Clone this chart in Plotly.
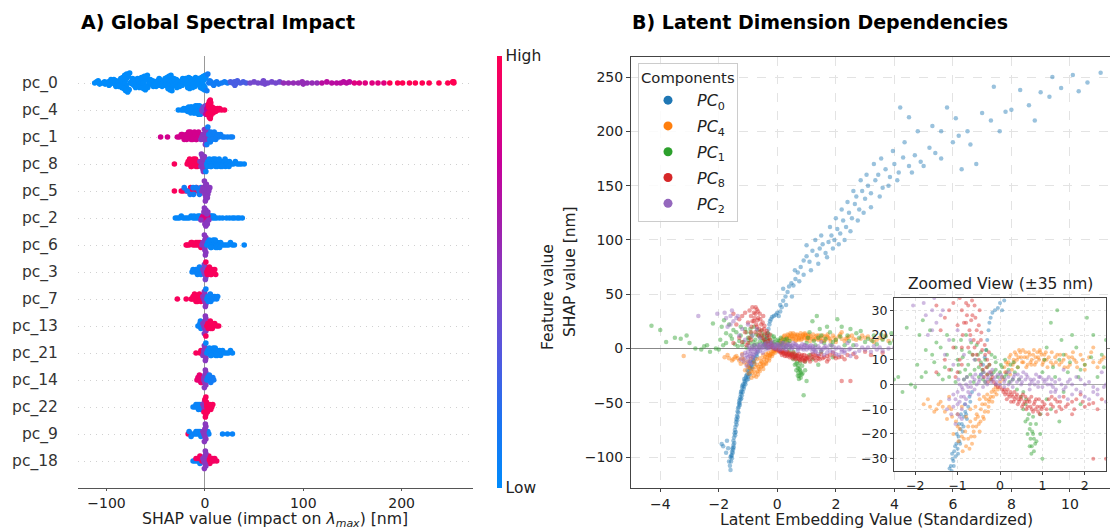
import numpy as np
import plotly.graph_objects as go

W, H = 1110, 529

# ---------------- Panel A: SHAP beeswarm data ----------------
feature_names = ["pc_0", "pc_4", "pc_1", "pc_8", "pc_5", "pc_2", "pc_6", "pc_3",
                 "pc_7", "pc_13", "pc_21", "pc_14", "pc_22", "pc_9", "pc_18"]

# (feature value level 0=low .. 1=high, [SHAP values in nm])
pc_0_pts = [
    (0.0, [-112, -110, -107, -104, -102, -100, -98, -96, -95, -93, -92, -91, -90, -89, -88, -87, -86, -85,
           -84, -83, -82, -82, -81, -81, -81, -81, -80, -80, -80, -79, -79, -78, -77, -76, -75, -74, -73,
           -72, -71, -70, -69, -68, -67, -66, -65, -64, -64, -63, -63, -63, -62, -62, -61, -60, -59, -58,
           -57, -56, -55, -53, -52, -51, -50, -49, -48, -47, -46, -45, -44, -43, -42, -41, -40, -39, -38,
           -37, -36, -36, -35, -35, -35, -34, -33, -33, -32, -31, -30, -29, -28, -27, -26, -25, -24, -23,
           -22, -21, -20, -19, -18, -17, -16, -16, -15, -15, -14, -13, -12, -11, -10, -9, -8, -7, -6, -5,
           -4, -4, -3, -3, -2, -2, -2, -1, -1, 0, 0, 1,
           -108.5, -101.5, -97.5, -95.5, -92.5, -90.5, -87.5, -85.5, -84.5, -83.5, -82.5, -81.5, -80.5,
           -79.5, -78.5, -76.5, -73.5, -70.5, -68.5, -66.5, -64.5, -63.5, -62.5, -61.5, -60.5, -58.5,
           -55.5, -52.5, -49.5, -46.5, -43.5, -40.5, -38.5, -37.5, -36.5, -35.5, -34.5, -33.5, -31.5,
           -28.5, -25.5, -22.5, -19.5, -17.5, -16.5, -15.5, -14.5, -12.5, -9.5, -6.5, -4.5, -3.5, -2.5,
           -1.5, -0.5, 0.5]),
    (0.1, [2, 4, 6, 8, 10, 12, 14, 17, 20, 23, 3, 5, 9]),
    (0.28, [26, 28, 30, 31, 33, 36, 39, 42, 30.5]),
    (0.42, [46, 50, 54, 58, 60, 61, 64, 68, 72, 76, 59.5]),
    (0.55, [80, 85, 90, 95, 99, 100, 104, 109, 114]),
    (0.7, [119, 124, 129, 134, 138, 141, 144, 147]),
    (0.85, [152, 157, 163, 170, 176, 182]),
    (1.0, [188, 196, 201, 208, 214, 221, 228, 238, 247, 252, 253, 253]),
]
pc_4_pts = [
    (0.02, [-27, -24, -22, -20, -19, -18, -17, -16, -15, -15, -14, -13, -12, -12, -11, -10, -9, -9, -8, -8,
            -7, -7, -6, -6, -5, -5, -4, -21.5, -17.5, -16.5, -14.5, -13.5, -11.5, -10.5, -9.5, -8.5, -7.5,
            -6.5, -5.5, -4.5]),
    (0.4, [-3, -2, -1, 0, 0, 1, -2.5, -1.5, -0.5, 0.5]),
    (0.72, [1, 2, 2, 3, 3, 4, 4, 2.5, 3.5, 4.5]),
    (0.97, [3, 4, 4, 5, 5, 5, 6, 6, 7, 8, 9, 10, 12, 14, 17, 20, 3.5, 4.5, 4.5, 5.5, 5.5, 6.5, 7.5, 8.5,
            11, 13, 15]),
]
pc_1_pts = [
    (0.8, [-45, -38, -28, -26, -24, -22, -20, -19, -18, -17, -16, -15, -14, -13, -12, -11, -10, -9, -8,
           -7, -6, -5, -23, -21, -18.5, -16.5, -14.5, -12.5, -10.5, -8.5, -6.5]),
    (0.5, [-4, -3, -2, -1, 0, 0, 1, 1, 2, 2, 3, 3, 4, -1.5, -0.5, 0.5, 1.5, 2.5]),
    (0.08, [2, 3, 4, 5, 6, 7, 8, 9, 10, 11, 12, 14, 16, 18, 20, 23, 26, 28, 5.5, 7.5, 9.5, 13]),
]
pc_8_pts = [
    (0.97, [-31, -18, -17, -16, -15, -14, -13, -12, -11, -10, -9, -8, -7, -6, -15.5, -13.5, -11.5, -9.5,
            -7.5]),
    (0.5, [-5, -4, -3, -3, -2, -2, -2, -1, -1, -1, 0, 0, -2.5, -1.5, -0.5, -3.5]),
    (0.03, [1, 2, 3, 4, 5, 6, 7, 8, 9, 10, 11, 12, 13, 14, 15, 16, 17, 18, 19, 20, 21, 22, 23, 24, 25,
            27, 29, 31, 33, 35, 37, 40, 2.5, 4.5, 6.5, 8.5, 10.5, 12.5, 14.5, 17.5, 20.5, 24.5]),
]
pc_5_pts = [
    (0.97, [-31, -24, -22, -19, -16, -13, -10, -7, -14.5, -8.5]),
    (0.1, [-21, -18, -15, -12, -9, -6, -4, -11.5, -5.5]),
    (0.5, [-3, -2, -1, 0, 0, 1, 1, 2, 2, 3, 4, 5, -0.5, 0.5, 1.5, 2.5]),
]
pc_2_pts = [
    (0.03, [-30, -28, -26, -24, -22, -20, -18, -16, -14, -12, -10, -8, -6, -5, 5, 6, 8, 10, 12, 15, 18,
            22, 25, 28, 30, 33, 35, 38, -11, -7, 7, 9]),
    (0.85, [-3, -2, -1, 0, 0, 1, 2, 3, 0.5, 1.5]),
    (0.5, [-4, -1, 0, 1, 1, 2, 2, 3, 4, -0.5, 2.5]),
]
pc_6_pts = [
    (0.97, [-19, -18, -16, -14, -12, -10, -8, -6, -5, -4, -13, -9, -7]),
    (0.5, [-3, -2, -1, -1, 0, 0, 0, 1, 1, -0.5, 0.5]),
    (0.03, [2, 3, 4, 5, 6, 7, 8, 9, 10, 11, 12, 13, 14, 16, 18, 20, 22, 24, 26, 28, 30, 40, 4.5, 6.5,
            8.5, 10.5, 12.5, 15]),
]
pc_3_pts = [
    (0.05, [-13, -12, -10, -9, -8, -7, -6, -5, -4, -3, -7.5, -5.5]),
    (0.45, [-2, -1, -1, 0, 0, 1, -0.5, 0.5]),
    (0.97, [1, 2, 3, 4, 5, 6, 7, 8, 9, 10, 11, 2.5, 4.5, 6.5]),
]
pc_7_pts = [
    (0.97, [-28, -19, -14, -13, -12, -11, -10, -9, -8, -7, -6, -5, -4, -3, -10.5, -7.5, -5.5]),
    (0.5, [-2, -1, -1, 0, 0, 1, -0.5, 0.5]),
    (0.05, [1, 2, 3, 4, 5, 6, 7, 8, 9, 10, 12, 13, 3.5, 5.5]),
]
pc_13_pts = [
    (0.05, [-7, -6, -5, -4, -3, -4.5]),
    (0.5, [-2, -1, -1, 0, 0, 1, 1, -0.5, 0.5]),
    (0.97, [1, 2, 3, 4, 5, 6, 7, 8, 9, 10, 12, 14, 3.5, 5.5, 7.5]),
]
pc_21_pts = [
    (0.97, [-9, -5, -4, -3, -2.5]),
    (0.5, [-2, -1, -1, 0, 0, 1, -0.5, 0.5]),
    (0.03, [1, 2, 3, 4, 5, 6, 7, 8, 9, 10, 11, 12, 13, 14, 15, 16, 17, 18, 20, 22, 24, 26, 28, 4.5, 6.5,
            8.5, 10.5, 12.5]),
]
pc_14_pts = [
    (0.9, [-8, -7, -6, -5, -4, -3, -2, -5.5, -3.5]),
    (0.5, [-1, -1, 0, 0, 1, 1, -0.5, 0.5]),
    (0.1, [2, 3, 4, 5, 6, 7, 8, 9, 4.5]),
]
pc_22_pts = [
    (0.05, [-12, -10, -9, -8, -7, -6, -5, -4, -3, -6.5]),
    (0.5, [-2, -1, 0, 0, -0.5]),
    (0.97, [-1, 0, 1, 1, 2, 2, 3, 4, 5, 6, 7, 8, 0.5, 1.5, 2.5]),
]
pc_9_pts = [
    (0.97, [-17, -15]),
    (0.05, [-16, -14, -12, -10, -8, -6, -5, -4, -3, 2, 3, 4, 18, 23, 28, -7, -9]),
    (0.5, [-2, -1, -1, 0, 0, 1, 1, -0.5, 0.5]),
]
pc_18_pts = [
    (0.05, [-12, -10, -8, -6, -4, 4, 6, -5]),
    (0.95, [-9, -7, -5, -3, 2, 3, 5, 7, 8, 9, 10, 12, 4]),
    (0.5, [-2, -1, -1, 0, 0, 1, 1, -0.5, 0.5]),
]
row_points = [pc_0_pts, pc_4_pts, pc_1_pts, pc_8_pts, pc_5_pts, pc_2_pts, pc_6_pts, pc_3_pts,
              pc_7_pts, pc_13_pts, pc_21_pts, pc_14_pts, pc_22_pts, pc_9_pts, pc_18_pts]

shap_ticks = [-100, 0, 100, 200]

# ---------------- Panel B: dependence data (x = standardized latent, y = SHAP nm) ----------------
pc0_xy = [(-1.62, -108), (-1.58, -104), (-1.57, -99), (-1.55, -101), (-1.55, -95), (-1.53, -92), (-1.52, -96),
          (-1.5, -89), (-1.5, -85), (-1.48, -82), (-1.47, -87), (-1.46, -78), (-1.45, -75), (-1.43, -72),
          (-1.42, -77), (-1.41, -68), (-1.4, -65), (-1.38, -62), (-1.37, -66), (-1.36, -58), (-1.34, -55),
          (-1.33, -59), (-1.31, -51), (-1.3, -48), (-1.28, -52), (-1.27, -45), (-1.25, -42), (-1.23, -46),
          (-1.22, -39), (-1.2, -36), (-1.18, -40), (-1.16, -33), (-1.14, -35), (-1.12, -30), (-1.1, -31),
          (-1.08, -27), (-1.05, -29), (-1.03, -24), (-1.0, -26), (-0.98, -21), (-0.96, -23), (-0.93, -18),
          (-0.9, -16), (-0.88, -19), (-0.85, -13), (-0.82, -11), (-0.78, -14), (-0.75, -9), (-0.7, -7),
          (-1.56, -98), (-1.51, -93), (-1.49, -91), (-1.44, -80), (-1.39, -70), (-1.35, -63), (-1.32, -54),
          (-1.29, -50), (-1.26, -47), (-1.24, -40), (-1.21, -43), (-1.19, -34), (-1.15, -37), (-1.13, -28),
          (-1.09, -33), (-1.06, -25), (-1.02, -20), (-0.99, -28), (-0.97, -16), (-0.94, -24), (-0.92, -12),
          (-0.86, -17), (-0.83, -8), (-0.8, -12), (-0.72, -5), (-0.66, -3), (-1.65, -104), (-1.6, -100),
          (-1.85, -90), (-1.72, -85), (-1.68, -92), (-1.75, -96), (-1.6, -112), (-1.9, -88),
          (-0.45, 4), (-0.4, 8), (-0.36, 11), (-0.33, 14), (-0.3, 18), (-0.27, 22), (-0.25, 25), (-0.22, 27),
          (-0.18, 29), (-0.12, 30), (-0.05, 31), (0.0, 33), (0.05, 30), (0.1, 34), (0.15, 38), (0.2, 44),
          (0.28, 48), (0.35, 52), (0.4, 57), (0.48, 60), (0.55, 58), (0.62, 64), (0.7, 70), (0.8, 75),
          (0.9, 81), (1.0, 85), (1.1, 80), (1.2, 90), (1.35, 86), (1.45, 92), (1.55, 96), (1.65, 88),
          (1.75, 98), (1.85, 104), (1.95, 100), (2.05, 110), (2.15, 106), (2.25, 118), (2.35, 112),
          (2.45, 125), (2.55, 120), (2.65, 133), (2.7, 140), (2.8, 128), (2.9, 145), (3.0, 138), (3.1, 150),
          (3.2, 143), (3.35, 155), (3.45, 160), (3.6, 148), (3.7, 165), (3.85, 158), (4.0, 170), (4.15, 162),
          (4.2, 222), (4.5, 213), (4.3, 176), (4.5, 168), (4.7, 178), (4.9, 172), (5.2, 185), (5.4, 180),
          (5.6, 200), (5.8, 222), (6.0, 190), (6.2, 196), (6.3, 165), (6.5, 200), (6.8, 170), (7.0, 217),
          (7.3, 210), (7.4, 241), (7.8, 218), (8.0, 220), (8.6, 224), (9.0, 236), (9.3, 232), (9.4, 250),
          (10.1, 252), (10.3, 237), (11.05, 254),
          (0.1, 40), (0.3, 40), (0.2, 55), (0.5, 48), (0.6, 72), (0.75, 62), (0.9, 68), (1.0, 95), (1.15, 72),
          (1.3, 100), (1.4, 78), (1.5, 104), (1.7, 84), (1.8, 112), (1.9, 92), (2.0, 120), (2.1, 96),
          (2.2, 128), (2.3, 100), (2.4, 135), (2.5, 108), (2.6, 145), (2.75, 118), (2.85, 155), (2.95, 125),
          (3.05, 160), (3.2, 130), (3.3, 170), (3.5, 140), (3.55, 175), (3.8, 150), (3.95, 182), (4.1, 155),
          (4.35, 190), (4.6, 162), (4.8, 200), (5.0, 168), (5.3, 205), (5.6, 175), (6.1, 212), (6.6, 188),
          (7.6, 200), (8.3, 238), (8.8, 210), (9.7, 240), (10.6, 245)]

pc4_xy = [(-3.2, -7), (-1.8, -8), (-1.65, -9), (-1.5, -10), (-1.4, -7), (-1.3, -11), (-1.2, -5), (-1.13, -13),
          (-1.04, -15), (-1.0, -12), (-0.95, -18), (-0.9, -21), (-0.85, -22), (-0.8, -25), (-0.75, -17),
          (-0.7, -10), (-0.66, -24), (-0.64, -17), (-0.6, -21), (-0.58, -14), (-0.55, -12), (-0.5, -16),
          (-0.48, -6), (-0.45, -10), (-0.4, -13), (-0.38, -5), (-0.35, -8), (-0.3, -4), (-0.28, -11),
          (-0.25, -6), (-0.2, -3), (-0.15, -2), (-0.1, -1), (0.0, 1), (0.1, 7), (0.15, 5), (0.2, 9),
          (0.25, 12), (0.3, 8), (0.35, 13), (0.4, 10), (0.45, 14), (0.5, 11), (0.55, 9), (0.6, 13),
          (0.65, 8), (0.7, 12), (0.75, 10), (0.8, 14), (0.85, 9), (0.9, 11), (0.95, 13), (1.0, 8),
          (1.05, 12), (1.1, 10), (1.2, 9), (1.3, 11), (1.4, 8), (1.5, 10), (1.6, 7), (1.7, 11), (1.8, 9),
          (2.0, 8), (2.1, 11), (2.2, 15), (2.3, 7), (2.4, 10), (2.6, 9), (2.9, 12), (3.2, 8), (3.5, 10),
          (3.8, 7),
          (-0.9, -9), (-0.8, -13), (-0.75, -22), (-0.7, -15), (-0.62, -19), (-0.58, -9), (-0.52, -13),
          (-0.48, -19), (-0.42, -8), (-0.38, -14), (-0.33, -6), (-0.27, -9), (-0.22, -5), (-0.18, -7),
          (-0.12, -3), (-0.05, -2), (0.05, 3), (0.12, 5), (0.18, 8), (0.22, 11), (0.28, 6), (0.32, 10),
          (0.38, 12), (0.42, 7), (0.48, 13), (0.52, 9), (0.58, 11), (0.62, 7), (0.68, 13), (0.72, 9),
          (0.78, 12), (0.82, 8), (0.88, 13), (0.92, 10), (0.98, 12), (1.02, 9), (1.08, 13), (1.15, 11),
          (1.25, 8), (1.35, 12), (1.45, 9), (1.55, 12), (1.65, 8), (1.75, 10), (1.9, 12), (2.0, 6),
          (2.2, 9), (2.45, 11), (2.7, 8), (3.0, 10), (3.3, 6), (3.6, 9), (4.0, 8), (-1.2, -9), (-1.45, -8),
          (-1.1, -20), (-1.0, -17),
          (-1.7, -6), (-1.55, -11), (-1.35, -9), (-1.25, -14), (-1.15, -10), (-0.98, -23), (-0.88, -27),
          (-0.82, -19), (-0.72, -26), (-0.68, -21), (-0.56, -17), (-0.46, -15), (-0.36, -11), (-0.26, -7),
          (-0.16, -5), (-0.08, -4), (0.08, 2), (0.14, 9), (0.24, 4), (0.34, 9), (0.44, 11), (0.54, 14),
          (0.64, 11), (0.74, 8), (0.84, 11), (0.94, 14), (1.04, 10), (1.12, 7), (1.22, 13), (1.32, 9),
          (1.42, 12), (1.52, 7), (1.62, 11), (1.72, 13), (1.82, 7), (1.95, 10), (2.15, 13), (2.35, 9),
          (2.55, 12), (2.85, 9), (3.1, 11), (3.4, 8), (3.7, 12)]

pc1_xy = [(-4.3, 21), (-4.0, 17), (-3.8, 6), (-3.5, 10), (-3.3, 9), (-3.0, 5), (-2.6, -1), (-2.4, 3),
          (-2.3, -3), (-2.2, 23), (-2.1, 0), (-2.0, -1), (-1.9, 20), (-1.82, 26), (-1.75, 5), (-1.65, 22),
          (-1.6, 12), (-1.5, 17), (-1.45, 4), (-1.4, 15), (-1.3, 7), (-1.2, 3), (-1.1, 18), (-1.0, 10),
          (-0.95, 5), (-0.9, 14), (-0.85, 2), (-0.8, 20), (-0.75, 8), (-0.7, 4), (-0.65, 12), (-0.6, 6),
          (-0.55, 16), (-0.5, 3), (-0.45, 9), (-0.4, 5), (-0.35, 1), (-0.3, 7), (-0.2, 4), (-0.1, 6),
          (0.0, 5), (0.1, 3), (0.2, 6), (0.3, 2), (0.4, -2), (0.5, -5), (0.55, -10), (0.6, -8), (0.65, -14),
          (0.7, -18), (0.72, -22), (0.75, -25), (0.78, -20), (0.8, -27), (0.85, -16), (0.9, -43), (0.95, -12),
          (1.0, -30), (1.1, -6), (1.2, 25), (1.35, 30), (1.4, 10), (1.6, 5), (1.8, 15), (2.0, 8), (2.05, 27),
          (2.2, 20), (2.4, 12), (2.6, 3), (2.8, 10), (3.0, 6), (3.3, 12), (3.6, 8), (3.9, 14), (4.2, 10),
          (1.5, -3), (1.9, -8),
          (-0.5, 7), (-0.45, 13), (-0.4, 2), (-0.35, 10), (-0.3, 4), (-0.25, 8), (-0.2, 12), (-0.15, 5),
          (-0.1, 9), (-0.05, 3), (0.05, 7), (0.15, 4), (0.25, 8), (0.35, 5), (0.45, 2), (0.55, -3),
          (0.62, -6), (0.68, -12), (0.72, -16), (0.76, -19), (0.8, -22), (0.83, -24), (0.7, -25),
          (0.65, -20), (-1.25, 12), (-1.15, 6), (-1.05, 15), (-0.98, 8), (-0.88, 11), (-0.78, 3),
          (-0.68, 17), (-0.58, 10), (-1.55, 9), (-1.75, 14), (-2.5, 2), (-2.8, 0), (-3.1, 12), (1.0, 5),
          (1.1, 15), (1.3, 3), (1.5, 12), (1.7, 20), (1.9, 6), (2.3, 3), (2.5, 18), (2.7, 14), (3.1, 9),
          (3.4, 4), (3.7, 11), (4.0, 7), (1.2, -10), (1.4, -15), (0.95, -20),
          (-1.95, 8), (-1.85, 3), (-1.35, 2), (-1.25, 20), (-1.05, 1), (-0.92, 18), (-0.82, 6), (-0.72, 13),
          (-0.62, 1), (-0.52, 12), (-0.42, 6), (-0.32, 14), (-0.22, 2), (-0.12, 11), (0.02, 8), (0.12, 10),
          (0.22, 1), (0.32, 9), (0.42, 7), (1.05, 10), (1.25, 7), (1.45, 18), (1.65, 9), (1.85, 3),
          (2.15, 11), (2.45, 7), (2.85, 16), (3.25, 7), (3.55, 13), (3.85, 5), (0.6, -15), (0.74, -28),
          (0.86, -23), (0.78, -13)]

pc8_xy = [(-1.5, 32), (-1.3, 27), (-1.1, 33), (-1.0, 24), (-0.95, 35), (-0.9, 30), (-0.85, 38), (-0.8, 25),
          (-0.75, 32), (-0.7, 20), (-0.65, 28), (-0.6, 15), (-0.55, 22), (-0.5, 10), (-0.45, 18), (-0.4, 6),
          (-0.35, 12), (-0.3, 4), (-0.25, 8), (-0.2, 2), (-1.2, 30), (-1.4, 22), (-1.1, 15), (-1.3, 10),
          (-1.0, 5), (-0.9, 8), (-0.15, 1), (-0.1, 0), (-0.05, -1), (0.0, -1), (0.1, -2), (0.15, -3),
          (0.2, -4), (0.25, -3), (0.3, -5), (0.35, -6), (0.4, -4), (0.45, -7), (0.5, -6), (0.55, -8),
          (0.6, -5), (0.65, -9), (0.7, -7), (0.75, -10), (0.8, -8), (0.85, -6), (0.9, -11), (0.95, -9),
          (1.0, -7), (1.1, -10), (1.2, -8), (1.3, -6), (1.4, -9), (1.5, -5), (1.7, -7), (1.9, -4), (2.1, -8),
          (2.2, -7.5), (2.2, -30), (2.5, -30), (2.6, -5), (3.0, -3),
          (0.05, -2), (0.12, -4), (0.18, -2), (0.22, -5), (0.28, -4), (0.32, -7), (0.38, -5), (0.42, -8),
          (0.48, -5), (0.52, -9), (0.58, -7), (0.62, -10), (0.68, -6), (0.72, -9), (0.78, -11), (0.82, -7),
          (0.88, -9), (0.92, -6), (0.98, -10), (1.05, -8), (1.15, -6), (1.25, -9), (1.35, -7), (1.45, -10),
          (1.6, -8), (1.8, -6), (2.0, -9), (-0.85, 25), (-0.8, 33), (-0.75, 15), (-0.7, 36), (-0.68, 26),
          (-0.62, 18), (-0.6, 32), (-0.55, 12), (-0.5, 24), (-0.45, 8), (-0.42, 14), (-0.38, 3), (-0.32, 7),
          (-0.28, 1), (-0.22, 5), (-0.18, 3), (-0.9, 15), (-0.95, 10), (-1.05, 3), (-1.2, 6), (-1.5, 5),
          (1.7, -12), (2.3, -10), (2.7, -8), (3.2, -6), (3.6, -4),
          (0.08, -3), (0.16, -6), (0.26, -7), (0.34, -3), (0.44, -6), (0.54, -4), (0.64, -7), (0.74, -5),
          (0.84, -10), (0.94, -12), (1.02, -9), (1.12, -12), (1.22, -5), (1.32, -11), (1.42, -7), (1.55, -9),
          (1.75, -10), (1.95, -7), (2.4, -6), (-0.78, 28), (-0.72, 22), (-0.66, 34), (-0.58, 27),
          (-0.52, 17), (-0.48, 30), (-0.44, 21), (-0.36, 16), (-0.3, 10), (-0.26, 13), (-0.74, 38),
          (-0.88, 20), (-0.64, 12)]

pc2_xy = [(-1.0, -3), (-0.9, -1), (-0.8, 0), (-0.7, 1), (-0.6, 2), (-0.5, 1), (-0.4, 3), (-0.3, 2),
          (-0.2, 4), (-0.1, 3), (0.0, 2), (0.1, 1), (0.2, 3), (0.3, 2), (0.4, 1), (0.5, 3), (0.6, 2),
          (0.7, 0), (0.8, 2), (0.9, 1), (1.0, -1), (1.1, 2), (1.2, 0), (1.3, 1), (1.5, -2), (1.7, 0),
          (1.9, -3), (2.1, 1), (2.3, -4), (2.5, 0), (2.8, -2), (3.1, 1), (3.4, -1), (3.8, 0), (4.1, 2),
          (-1.2, -6), (-1.1, -9), (-1.0, -12), (-0.95, -7), (-0.85, -5), (-0.75, -3), (-0.9, -14),
          (-1.8, 33), (-1.6, 30), (-1.5, 25), (-1.7, 20), (-1.4, 28), (-1.2, 18), (-2.7, 30), (-2.05, 32),
          (-1.3, 12), (-1.1, 8), (1.3, -3), (1.6, -6), (2.0, -5), (2.3, -2), (1.8, 3), (2.4, 5), (1.5, 6),
          (-0.95, 0), (-0.85, 2), (-0.75, -1), (-0.65, 3), (-0.55, 0), (-0.45, 4), (-0.35, 1), (-0.25, 5),
          (-0.15, 2), (-0.05, 4), (0.05, 3), (0.15, 5), (0.25, 1), (0.35, 4), (0.45, 2), (0.55, 5),
          (0.65, 3), (0.75, 1), (0.85, 4), (0.95, 3), (1.05, 1), (1.15, 3), (1.25, -1), (-0.6, -2),
          (-0.5, -4), (-0.4, -1), (-0.3, 0), (-0.2, 1), (-0.1, 0), (0.0, 0), (0.1, -1), (0.2, 0), (0.3, -1),
          (0.5, 0), (0.7, -2), (0.9, -1), (1.2, -3), (1.4, -5), (1.7, -4), (2.1, -6), (2.5, -7),
          (-1.15, -12), (-1.05, -16), (-1.0, -8), (-0.9, -10), (-0.8, -6), (-0.7, -4), (-1.25, -10),
          (-0.95, -13), (-0.85, 12), (-0.7, 18), (-1.0, 22), (-0.6, 10), (-1.6, 22), (2.7, 3), (3.0, -1),
          (3.3, 2), (3.6, -2), (4.0, 1), (2.2, -1), (1.9, 2), (1.6, 1), (1.4, 2),
          (-0.98, 2), (-0.88, -2), (-0.78, 3), (-0.68, -1), (-0.58, 4), (-0.48, 2), (-0.38, 5), (-0.28, 3),
          (-0.18, 6), (-0.08, 1), (0.02, 4), (0.12, 2), (0.22, 5), (0.32, 3), (0.42, 4), (0.52, 1),
          (0.62, 4), (0.72, 2), (0.82, 0), (0.92, 3), (1.02, 2), (1.12, 0), (1.22, 2), (1.32, -2),
          (1.45, 0), (1.55, -1), (1.65, 2), (1.8, -2), (2.0, 0), (2.2, -3), (2.45, -1), (2.65, -4),
          (2.9, 1), (3.2, -3), (3.5, 1), (-1.1, -4), (-1.05, -6), (-0.92, -5), (-0.82, -8), (-1.35, 30),
          (-1.55, 35), (-1.75, 28)]

components = ["PC<sub>0</sub>", "PC<sub>4</sub>", "PC<sub>1</sub>", "PC<sub>8</sub>", "PC<sub>2</sub>"]
comp_data = [pc0_xy, pc4_xy, pc1_xy, pc8_xy, pc2_xy]
comp_colors = ["#1f77b4", "#ff7f0e", "#2ca02c", "#d62728", "#9467bd"]

main_xticks = [-4, -2, 0, 2, 4, 6, 8, 10]
main_yticks = [-100, -50, 0, 50, 100, 150, 200, 250]
inset_xticks = [-2, -1, 0, 1, 2]
inset_yticks = [-30, -20, -10, 0, 10, 20, 30]

# ---------------- helpers ----------------
def px(x):
    return x / W


def py(y):
    return 1 - y / H


def minus(vals):
    return [("\u2212" + str(-v)) if v < 0 else str(v) for v in vals]


def swarm_offsets(vals, bw, half=0.37):
    vals = np.asarray(vals, float)
    q = np.round(vals / bw)
    order = np.argsort(q, kind="stable")
    ys = np.zeros(len(vals))
    layer, last = 0, None
    for i in order:
        if q[i] != last:
            layer = 0
        ys[i] = np.ceil(layer / 2) * ((layer % 2) * 2 - 1)
        layer += 1
        last = q[i]
    m = np.max(np.abs(ys))
    if m > 0:
        ys = ys * half / m
    return ys


FONT = "DejaVu Sans"
fig = go.Figure()

# ---- Panel A beeswarm ----
n = len(feature_names)
all_x, all_y, all_c = [], [], []
for i, groups in enumerate(row_points):
    vals, levels = [], []
    for lvl, vs in groups:
        vals += vs
        levels += [lvl] * len(vs)
    vals = np.array(vals, float)
    rng = vals.max() - vals.min()
    bw = max(2.5, rng / 60.0)
    off = swarm_offsets(vals, bw)
    row = n - 1 - i
    all_x += list(vals)
    all_y += list(row + off)
    all_c += levels

fig.add_trace(go.Scatter(
    x=all_x, y=all_y, mode="markers", xaxis="x", yaxis="y", showlegend=False,
    marker=dict(size=5.6, color=all_c, coloraxis="coloraxis", line=dict(width=0)),
    hoverinfo="skip"))

# ---- Panel B main + inset ----
for name, data, col in zip(components, comp_data, comp_colors):
    fig.add_trace(go.Scatter(x=[p[0] for p in data], y=[p[1] for p in data], mode="markers",
                             xaxis="x2", yaxis="y2", showlegend=False,
                             marker=dict(size=4.5, color=col, opacity=0.45, line=dict(width=0))))
for name, data, col in zip(components, comp_data, comp_colors):
    fig.add_trace(go.Scatter(x=[p[0] for p in data], y=[p[1] for p in data], mode="markers",
                             xaxis="x3", yaxis="y3", showlegend=False,
                             marker=dict(size=4, color=col, opacity=0.45, line=dict(width=0))))
# legend entries
for k, (name, col) in enumerate(zip(components, comp_colors)):
    fig.add_trace(go.Scatter(x=[None], y=[None], mode="markers", xaxis="x2", yaxis="y2",
                             name="<i>" + name.replace("<sub>", "</i><sub>"), showlegend=True,
                             legendgroup="g%d" % k, marker=dict(size=9, color=col)))

shap_scale = [[0.0, "#008bfb"], [0.15, "#1a74f2"], [0.3, "#5059e0"], [0.45, "#7d44c8"],
              [0.6, "#a020ad"], [0.75, "#c6009a"], [0.88, "#e60077"], [1.0, "#ff0052"]]

tickfont = dict(family=FONT, size=14, color="#222")
fig.update_layout(
    width=W, height=H, margin=dict(l=0, r=0, t=0, b=0),
    paper_bgcolor="white", plot_bgcolor="white",
    font=dict(family=FONT, size=14, color="#222"),
    coloraxis=dict(
        colorscale=shap_scale, cmin=0, cmax=1,
        colorbar=dict(x=px(497), xanchor="left", y=py(272), yanchor="middle",
                      len=(488 - 56) / H, lenmode="fraction", thickness=5, outlinewidth=0,
                      tickvals=[0, 1], ticktext=["Low", "High"], ticks="",
                      tickfont=dict(family=FONT, size=15.5, color="#222"), xpad=0, ypad=0)),
    xaxis=dict(domain=[px(78), px(473)], range=[-129, 272.6], anchor="y",
               tickvals=shap_ticks, ticktext=minus(shap_ticks), tickfont=tickfont,
               showline=True, linecolor="#555", linewidth=1, ticks="outside", ticklen=2, tickcolor="#555",
               showgrid=False, zeroline=True, zerolinecolor="#999999", zerolinewidth=1),
    yaxis=dict(domain=[py(488), py(56)], range=[-1, 15], anchor="x",
               tickvals=list(range(n)), ticktext=feature_names[::-1],
               tickfont=dict(family=FONT, size=15.5, color="#333"),
               showline=False, ticks="outside", ticklen=16, tickcolor="rgba(0,0,0,0)",
               showgrid=True, gridcolor="#d0d0d0", griddash="1px,5px", gridwidth=1, zeroline=False),
    xaxis2=dict(domain=[px(631), 1.0], range=[-5.0, 11.37], anchor="y2",
                tickvals=main_xticks, ticktext=minus(main_xticks),
                tickfont=tickfont, showline=True, mirror=True, linecolor="#444", linewidth=1,
                ticks="outside", ticklen=3, tickcolor="#444",
                showgrid=True, gridcolor="#e3e3e3", griddash="dash", gridwidth=1, zeroline=False),
    yaxis2=dict(domain=[py(488), py(57)], range=[-128.5, 268.5], anchor="x2",
                tickvals=main_yticks, ticktext=minus(main_yticks),
                tickfont=tickfont, showline=True, linecolor="#444", linewidth=1,
                ticks="outside", ticklen=4, tickcolor="#444",
                showgrid=True, gridcolor="#e3e3e3", griddash="dash", gridwidth=1,
                zeroline=True, zerolinecolor="#888888", zerolinewidth=1),
    xaxis3=dict(domain=[px(894), px(1106)], range=[-2.5, 2.5], anchor="y3",
                tickvals=inset_xticks, ticktext=minus(inset_xticks),
                tickfont=dict(family=FONT, size=12.5, color="#222"),
                showline=True, mirror=True, linecolor="#444", linewidth=1,
                ticks="outside", ticklen=3, tickcolor="#444",
                showgrid=True, gridcolor="#e3e3e3", griddash="dot", gridwidth=1, zeroline=False),
    yaxis3=dict(domain=[py(471), py(298)], range=[-35, 35], anchor="x3",
                tickvals=inset_yticks, ticktext=minus(inset_yticks),
                tickfont=dict(family=FONT, size=12.5, color="#222"),
                showline=True, mirror=True, linecolor="#444", linewidth=1,
                ticks="outside", ticklen=3, tickcolor="#444",
                showgrid=True, gridcolor="#e3e3e3", griddash="dot", gridwidth=1,
                zeroline=True, zerolinecolor="#aaaaaa", zerolinewidth=1),
    legend=dict(x=px(638), y=py(63), xanchor="left", yanchor="top",
                title=dict(text="Components", font=dict(family=FONT, size=14.8, color="#222")),
                font=dict(family=FONT, size=16, color="#222"),
                bordercolor="#cccccc", borderwidth=1, bgcolor="rgba(255,255,255,0.85)",
                tracegroupgap=2, itemwidth=48),
)

annots = [
    dict(text="<b>A) Global Spectral Impact</b>", x=px(79), y=py(22), xanchor="left", yanchor="middle",
         font=dict(family=FONT, size=19, color="black")),
    dict(text="<b>B) Latent Dimension Dependencies</b>", x=px(630), y=py(22), xanchor="left", yanchor="middle",
         font=dict(family=FONT, size=19, color="black")),
    dict(text="SHAP value (impact on <i>\u03bb</i><sub><i>max</i></sub>) [nm]", x=px(275), y=py(519),
         xanchor="center", yanchor="middle", font=dict(family=FONT, size=15.7, color="#222")),
    dict(text="Latent Embedding Value (Standardized)", x=px(876), y=py(519),
         xanchor="center", yanchor="middle", font=dict(family=FONT, size=15.7, color="#222")),
    dict(text="Feature value", x=px(548), y=py(297), textangle=-90, xanchor="center", yanchor="middle",
         font=dict(family=FONT, size=15.5, color="#222")),
    dict(text="SHAP value [nm]", x=px(570), y=py(272), textangle=-90, xanchor="center", yanchor="middle",
         font=dict(family=FONT, size=15.5, color="#222")),
    dict(text="Zoomed View (\u00b135 nm)", x=px(1000), y=py(284), xanchor="center", yanchor="middle",
         font=dict(family=FONT, size=15.5, color="#222")),
]
for a in annots:
    a.update(xref="paper", yref="paper", showarrow=False)
fig.update_layout(annotations=annots)

fig.write_html("out.html", config={"displayModeBar": False},
               post_script="document.body.style.margin='0';document.body.style.overflow='hidden';")
